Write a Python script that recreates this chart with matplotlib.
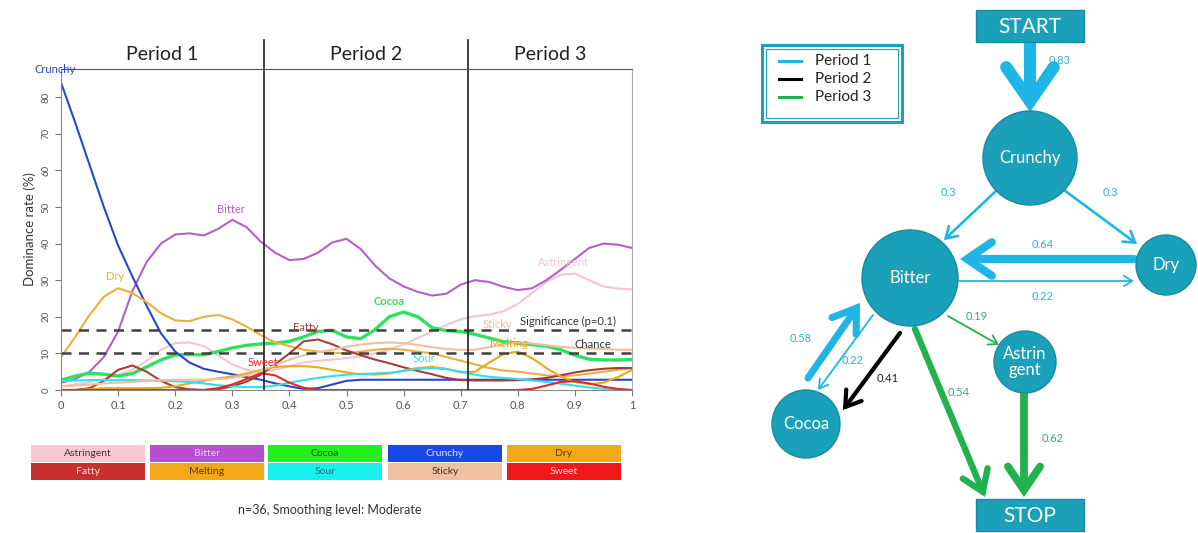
import matplotlib
matplotlib.use('agg')
import matplotlib.pyplot as plt  # noqa: E402
import numpy as np  # noqa: E402
from matplotlib.patches import Circle, Rectangle, FancyArrowPatch, ArrowStyle  # noqa: E402

plt.rcParams['font.family'] = ['Lato', 'DejaVu Sans']

# ---- TDS curves, read at time steps of 0.025 ----
t = np.linspace(0, 1, 41)

crunchy = [84, 73, 61.5, 50, 39.5, 31, 23, 15.5, 10.5, 7.5, 5.8, 5, 4.3, 3.5, 2.8, 1.8, 1, 0.3, 0.5, 1.5, 2.5,
           2.8, 2.8, 2.8, 2.8, 2.8, 2.8, 2.8, 2.8, 2.8, 2.8, 2.8, 2.8, 2.8, 2.8, 2.8, 2.8, 2.8, 2.8, 2.8, 2.8]
bitter = [2, 3, 5, 9, 16, 27, 35, 40, 42.5, 42.8, 42.2, 44, 46.5, 44.5, 40.5, 37.5, 35.5, 35.8, 37.5, 40.3, 41.3,
          38.5, 34, 30.5, 28.3, 26.8, 25.8, 26.3, 28.8, 30, 29.5, 28.2, 27.3, 27.8, 30, 32.8, 35.8, 38.8, 40, 39.7, 38.8]
dry = [9, 14.5, 20.5, 25.5, 27.8, 26.5, 24, 21, 19, 18.8, 20, 20.5, 19.3, 17.3, 15, 13, 12, 11, 10.5, 10.2, 10,
       10.5, 11, 11.3, 11, 10.5, 10, 9, 8, 7, 6, 5.3, 5, 4.5, 4, 3.8, 4, 4.5, 5, 5.5, 6]
cocoa = [2.7, 3.8, 4.6, 4.3, 3.8, 4.5, 6.3, 8.2, 9.6, 9.7, 9.6, 10.5, 11.5, 12.2, 12.6, 12.8, 13.3, 14.5, 16, 16.3,
         14.5, 14, 16.5, 20, 21.3, 20, 17, 16.2, 16, 15.2, 14.2, 13.2, 12.8, 12.4, 12, 11, 9.5, 8.4, 8.2, 8.2, 8.3]
fatty = [0, 0, 0.5, 2.5, 5.5, 6.7, 5, 2.5, 0.8, 0.2, 0, 0.2, 1, 2.3, 4.2, 7, 10, 13.3, 13.8, 12.5, 10.8,
         9.5, 8.3, 7.3, 6.2, 5.2, 4.3, 3.3, 2.7, 2.6, 2.6, 2.6, 2.7, 2.9, 3.3, 4, 4.8, 5.4, 5.8, 6, 6]
sweet = [0, 0, 0, 0, 0, 0, 0, 0, 0, 0, 0, 0.5, 1.5, 3, 4.6, 4, 2, 0.6, 0, 0, 0,
         0, 0, 0, 0, 0, 0, 0, 0, 0, 0, 0, 0, 0.3, 1.2, 2.2, 2.4, 1.8, 0.9, 0.3, 0]
sour = [2.5, 2.6, 2.7, 2.7, 2.7, 2.7, 2.6, 2.5, 2.4, 2.2, 1.8, 1.3, 1, 0.8, 0.8, 1.2, 2, 2.7, 3.3, 3.8, 4.2,
        4.4, 4.5, 4.7, 5.2, 5.8, 6, 5.7, 5, 4.2, 3.6, 3.3, 3, 2.6, 2.2, 1.7, 1.2, 0.7, 0.3, 0.1, 0]
melting = [0, 0, 0.2, 0.5, 0.5, 0.5, 0.5, 0.6, 1, 1.8, 2.5, 3.2, 3.7, 4.5, 5.5, 6.3, 6.5, 6.5, 6.2, 5.5, 4.8,
           4.3, 4.2, 4.5, 5.3, 6, 6.3, 5.8, 4.8, 5, 7.5, 9.8, 10.5, 8.7, 6, 3.7, 2.2, 1.6, 2, 3.5, 5.5]
sticky = [1, 1.2, 1.5, 1.8, 2, 2.2, 2.5, 2.7, 2.8, 2.8, 2.8, 3, 3.3, 4, 5.2, 6.8, 8.3, 9.5, 10.3, 11, 11.8,
          12.4, 12.8, 13, 12.8, 12.3, 11.7, 11.2, 11, 11, 11.7, 12.5, 13, 12.7, 12.2, 11.8, 11.5, 11.3, 11.2, 11, 11]
astringent = [1, 1.5, 2.2, 3, 4, 5.5, 8, 11, 12.8, 13, 12, 9.5, 7, 5.5, 5, 5.5, 6.5, 7.5, 8, 8.3, 8.7,
              9.2, 10, 11, 12.5, 14.2, 16, 17.8, 19.3, 20.2, 20.6, 21.5, 23.5, 26.5, 29.5, 31.5, 31.8, 30, 28.3, 27.7, 27.5]

chance = 10
significance = 16.4
period_bounds = [0.355, 0.712]
period_names = ['Period 1', 'Period 2', 'Period 3']

attrs = ['Astringent', 'Bitter', 'Cocoa', 'Crunchy', 'Dry', 'Fatty', 'Melting', 'Sour', 'Sticky', 'Sweet']
curves = [astringent, bitter, cocoa, crunchy, dry, fatty, melting, sour, sticky, sweet]
line_cols = ['#f4c6cc', '#b460c8', '#2ee060', '#2848c8', '#e8b040',
             '#a83c3c', '#f0a818', '#30e0f0', '#ecc0a0', '#e82828']
box_cols = ['#f9c8d2', '#b94ed2', '#22ee22', '#1848e8', '#f2a818',
            '#c83030', '#f2a818', '#18f0f0', '#f0c0a0', '#f01818']
box_txt = ['#503030', '#f4c8f4', '#106010', '#e0e8ff', '#5a3a00',
           '#ffe0e0', '#5a3a00', '#107070', '#503020', '#ffe0e0']

# label positions on the curves (time, rate)
curve_labels = {'Crunchy': (-0.046, 87.5), 'Bitter': (0.298, 49.2), 'Dry': (0.095, 30.9),
                'Cocoa': (0.575, 24.3), 'Fatty': (0.428, 17), 'Sweet': (0.354, 7.4),
                'Sour': (0.635, 8.5), 'Sticky': (0.765, 17.8), 'Melting': (0.784, 12.8),
                'Astringent': (0.88, 34.7)}

# ---- transition network ----
# name: (x, y, radius) in pixels; rectangles have radius None
nodes = {'START': (1030, 26, None), 'Crunchy': (1030, 158, 47), 'Bitter': (910, 278, 48),
         'Dry': (1166, 265, 30), 'Astrin\ngent': (1025, 362, 31), 'Cocoa': (806, 424, 34),
         'STOP': (1030, 515, None)}
edge_prob = [0.83, 0.3, 0.3, 0.64, 0.22, 0.58, 0.22, 0.41, 0.19, 0.54, 0.62]
edge_period = [1, 1, 1, 1, 1, 1, 1, 2, 3, 3, 3]
edge_start = [(1030, 44), (997, 190), (1064, 190), (1134, 259), (959, 281), (808, 378),
              (873, 315), (900, 333), (948, 316), (915, 329), (1024, 393)]
edge_end = [(1030, 112), (944, 240), (1137, 244), (960, 259), (1134, 281), (860, 303),
            (818, 390), (843, 410), (999, 345), (985, 497), (1024, 497)]
edge_label_at = [(1060, 60), (948, 193), (1110, 193), (1043, 244), (1043, 297), (801, 339),
                 (853, 361), (888, 379), (977, 317), (959, 393), (1053, 438)]
period_arrow_col = {1: '#1fb5e6', 2: '#000000', 3: '#22b14c'}
period_text_col = {1: '#2fb3dc', 2: '#222222', 3: '#38a878'}

fig = plt.figure(figsize=(11.98, 5.33), dpi=100)

ax = fig.add_axes([61 / 1198, (533 - 390) / 533, 571 / 1198, 321 / 533])
for name, y, c in zip(attrs, curves, line_cols):
	lw = 2.4 if name == 'Cocoa' else 1.5
	ax.plot(t, y, color=c, lw=lw, solid_capstyle='round', solid_joinstyle='round')
ax.axhline(significance, color='#404040', lw=1.8, ls=(0, (4, 3)))
ax.axhline(chance, color='#404040', lw=1.8, ls=(0, (4, 3)))
ax.text(0.803, significance + 0.8, 'Significance (p=0.1)', fontsize=8, color='#333333', va='bottom')
ax.text(0.9, chance + 1.0, 'Chance', fontsize=8, color='#333333', va='bottom')

for name, (lx, ly) in curve_labels.items():
	c = line_cols[attrs.index(name)]
	ax.text(lx, ly, name, color=c, fontsize=8, ha='left' if name == 'Crunchy' else 'center',
	        va='center', fontweight='bold' if name == 'Cocoa' else 'normal', clip_on=False)

ymax = 87.7
for b in period_bounds:
	ax.plot([b, b], [0, 95.6], color='#202020', lw=1.2, clip_on=False)
edges_p = [0] + period_bounds + [1]
for i, pn in enumerate(period_names):
	ax.text((edges_p[i] + edges_p[i + 1]) / 2, 91.7, pn, fontsize=14, ha='center', va='center', color='#202020')

ax.set_xlim(0, 1)
ax.set_ylim(0, ymax)
ax.set_xticks(np.arange(0, 1.01, 0.1))
ax.set_xticklabels(['0', '0.1', '0.2', '0.3', '0.4', '0.5', '0.6', '0.7', '0.8', '0.9', '1'])
ax.set_yticks(range(0, 81, 10))
ax.set_yticklabels([str(v) for v in range(0, 81, 10)], rotation=90, va='center')
ax.tick_params(axis='both', colors='#777777', labelcolor='#555555', labelsize=8, length=4)
ax.tick_params(axis='y', labelsize=7)
ax.spines['left'].set_color('#888888')
ax.spines['bottom'].set_color('#888888')
ax.spines['top'].set_color('#555555')
ax.spines['right'].set_color('#aaaaaa')
ax.set_ylabel('Dominance rate (%)', fontsize=9.5, color='#333333', labelpad=4)

# overlay in pixel units for the legend tiles and the network
ov = fig.add_axes([0, 0, 1, 1])
ov.set_xlim(0, 1198)
ov.set_ylim(533, 0)
ov.axis('off')

col_x = [31, 150, 268, 388, 507]
row_y = [445, 463]
for i, name in enumerate(attrs):
	x0 = col_x[i % 5]
	y0 = row_y[i // 5]
	ov.add_patch(Rectangle((x0, y0), 114, 17, facecolor=box_cols[i], edgecolor='none'))
	ov.text(x0 + 57, y0 + 8.5, name, fontsize=7.5, color=box_txt[i], ha='center', va='center')
ov.text(330, 510, 'n=36, Smoothing level: Moderate', fontsize=9, color='#333333', ha='center', va='center')

# arrows
for p, per, s, e, lp in zip(edge_prob, edge_period, edge_start, edge_end, edge_label_at):
	lw_px = max(16 * p ** 1.5, 1.8)
	hl = (2.5 * lw_px + 4) * 0.72
	hw = (1.8 * lw_px + 2) * 0.72
	arr = FancyArrowPatch(s, e, arrowstyle=ArrowStyle('->', head_length=hl, head_width=hw),
	                      mutation_scale=1, lw=lw_px * 0.72, color=period_arrow_col[per],
	                      shrinkA=0, shrinkB=0, joinstyle='miter', zorder=3)
	ov.add_patch(arr)
	ov.text(lp[0], lp[1], str(p), fontsize=8, color=period_text_col[per], ha='center', va='center', zorder=5)

node_col = '#1ba0b9'
for name, (nx, ny, r) in nodes.items():
	if r is None:
		ov.add_patch(Rectangle((nx - 54, ny - 16), 108, 32, facecolor=node_col, edgecolor='#168aa0', lw=1, zorder=4))
		ov.text(nx, ny + 1, name, fontsize=15, color='white', ha='center', va='center', zorder=5)
	else:
		ov.add_patch(Circle((nx, ny), r, facecolor=node_col, edgecolor='#168aa0', lw=1, zorder=4))
		ov.text(nx, ny, name, fontsize=12, color='white', ha='center', va='center', linespacing=1.0, zorder=5)

# period legend
ov.add_patch(Rectangle((762, 45), 140, 77, facecolor='white', edgecolor=node_col, lw=2.2))
ov.add_patch(Rectangle((766, 49), 132, 69, facecolor='none', edgecolor=node_col, lw=0.8))
for k, ly in zip([1, 2, 3], [61, 79, 97]):
	ov.plot([779, 801], [ly, ly], color=period_arrow_col[k], lw=2.2)
	ov.text(815, ly, 'Period %d' % k, fontsize=11, color='#222222', va='center')

plt.savefig('out.png', dpi=100)
